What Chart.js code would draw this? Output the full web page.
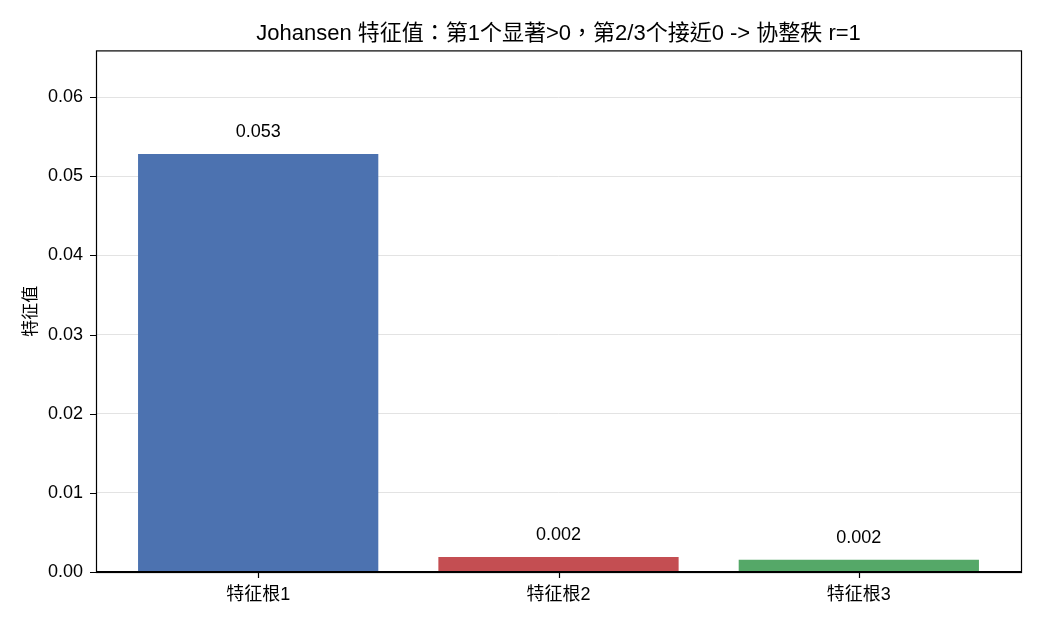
<!DOCTYPE html>
<html>
<head>
<meta charset="utf-8">
<script src="https://cdn.jsdelivr.net/npm/chart.js@4/dist/chart.umd.min.js"></script>
<style>
  html, body { margin: 0; padding: 0; background: #fff; }
  #wrap { width: 1040px; height: 624px; }
</style>
</head>
<body>
<div id="wrap"><canvas id="chart"></canvas></div>
<script>
"use strict";

// data
var categories = ["特征根1", "特征根2", "特征根3"];
var eigenValues = [0.0528, 0.0019, 0.00155];
var barColors = ["#4C72B0", "#C44E52", "#55A868"];
var yTicks = [0, 0.01, 0.02, 0.03, 0.04, 0.05, 0.06];

var FONT = "'Liberation Sans', 'Noto Sans CJK TC', sans-serif";

// value labels above each bar
var valueLabels = {
    id: "valueLabels",
    afterDatasetsDraw: function(chart) {
        var ctx = chart.ctx;
        var meta = chart.getDatasetMeta(0);
        ctx.save();
        ctx.font = "18px " + FONT;
        ctx.fillStyle = "#000";
        ctx.textAlign = "center";
        ctx.textBaseline = "middle";
        meta.data.forEach(function(bar, i) {
            var v = Math.round(eigenValues[i] * 1000) / 1000;
            ctx.fillText(v.toFixed(3), bar.x, bar.y - 22);
        });
        ctx.restore();
    }
};

// full frame around the plot area, plus outward tick marks
var frame = {
    id: "frame",
    afterDraw: function(chart) {
        var a = chart.chartArea, ctx = chart.ctx;
        var xs = chart.scales.x, ys = chart.scales.y;
        ctx.save();
        ctx.strokeStyle = "#000";
        ctx.lineWidth = 1.2;
        ctx.strokeRect(a.left + 0.5, a.top + 0.5, a.right - a.left, a.bottom - a.top);
        ctx.lineWidth = 2;
        ctx.beginPath();
        ctx.moveTo(a.left, a.bottom);
        ctx.lineTo(a.right + 1, a.bottom);
        ctx.stroke();
        ctx.lineWidth = 1.2;
        ctx.beginPath();
        categories.forEach(function(c, i) {
            var px = Math.round(xs.getPixelForValue(i)) + 0.5;
            ctx.moveTo(px, a.bottom);
            ctx.lineTo(px, a.bottom + 6);
        });
        yTicks.forEach(function(v) {
            var py = Math.round(ys.getPixelForValue(v)) + 0.5;
            ctx.moveTo(a.left - 6, py);
            ctx.lineTo(a.left, py);
        });
        ctx.stroke();
        ctx.restore();
    }
};

new Chart(document.getElementById("chart"), {
    type: "bar",
    data: {
        datasets: [{
            data: eigenValues.map(function(v, i) { return { x: i, y: v }; }),
            backgroundColor: barColors,
            borderWidth: 0,
            barPercentage: 0.8,
            categoryPercentage: 1.0
        }]
    },
    options: {
        responsive: true,
        maintainAspectRatio: false,
        animation: false,
        layout: { padding: { left: 0, right: 19, top: 0, bottom: 0 } },
        plugins: {
            legend: { display: false },
            tooltip: { enabled: false },
            title: {
                display: true,
                fullSize: false,
                text: "Johansen 特征值：第1个显著>0，第2/3个接近0 -> 协整秩 r=1",
                color: "#000",
                font: { family: FONT, size: 22, weight: "normal" },
                padding: { top: 21, bottom: 3 }
            }
        },
        scales: {
            x: {
                type: "linear",
                min: -0.54,
                max: 2.54,
                offset: false,
                afterBuildTicks: function(scale) {
                    scale.ticks = categories.map(function(c, i) { return { value: i }; });
                },
                afterFit: function(scale) { scale.height = 52; },
                ticks: {
                    color: "#000",
                    font: { family: FONT, size: 18 },
                    padding: 6,
                    maxRotation: 0,
                    callback: function(v) { return categories[v]; }
                },
                grid: { offset: false, drawOnChartArea: false, drawTicks: true, tickLength: 6, tickColor: "rgba(0,0,0,0)" },
                border: { display: false }
            },
            y: {
                min: 0,
                max: 0.0659,
                z: 1,
                afterBuildTicks: function(scale) {
                    scale.ticks = yTicks.map(function(v) { return { value: v }; });
                },
                afterFit: function(scale) { scale.width = 96; },
                ticks: {
                    color: "#000",
                    font: { family: FONT, size: 18 },
                    padding: 6,
                    callback: function(v) { return v.toFixed(2); }
                },
                grid: {
                    color: "#dcdcdc",
                    lineWidth: 0.8,
                    tickLength: 7,
                    tickColor: "rgba(0,0,0,0)"
                },
                border: { display: false },
                title: {
                    display: true,
                    text: "特征值",
                    color: "#000",
                    font: { family: FONT, size: 17 },
                    padding: { top: 21, bottom: 0 }
                }
            }
        }
    },
    plugins: [valueLabels, frame]
});
</script>
</body>
</html>
